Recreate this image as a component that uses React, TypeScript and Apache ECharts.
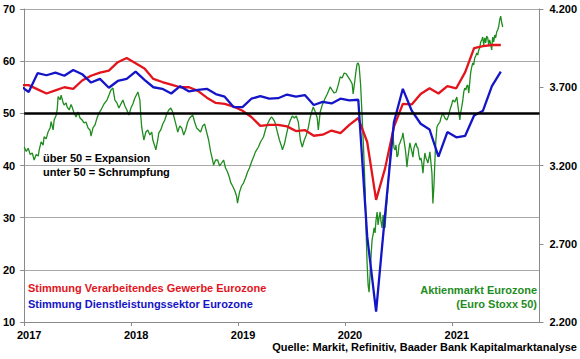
import React, { useEffect, useRef } from "react";
import * as echarts from "echarts";

// Monthly PMI series, first value = Dec 2016 (plotted mid-month)
const START_YEAR = 2016;
const START_MONTH = 11; // 0-based month index (December)

const manufacturingPMI = [
  55.4,
  55.4, 54.6, 53.8, 54.4, 55.0, 54.7, 56.3, 57.2, 57.8, 58.2, 59.8, 60.6,
  59.6, 58.6, 56.6, 56.0, 55.5, 55.0, 55.0, 54.3, 53.0, 52.0, 51.8, 51.3,
  50.5, 49.3, 47.6, 47.8, 47.8, 47.5, 46.6, 46.8, 45.7, 45.9, 46.7, 46.2,
  47.8, 49.1, 44.5, 33.4, 39.4, 47.4, 51.8, 51.7, 53.7, 54.8, 53.8, 55.2,
  54.8, 57.9, 62.5, 62.9, 63.1, 63.1,
];

const servicesPMI = [
  55.3,
  54.1, 57.7, 57.3, 57.8, 57.2, 58.3, 57.5, 55.9, 56.6, 54.9, 56.2, 56.6,
  58.0, 56.4, 55.0, 54.7, 53.8, 55.2, 54.2, 54.5, 54.7, 53.7, 53.2, 51.2,
  51.2, 52.8, 53.3, 52.8, 52.9, 53.6, 53.2, 53.5, 51.6, 52.2, 51.9, 52.8,
  52.5, 52.6, 26.4, 12.0, 30.5, 48.3, 54.7, 50.5, 48.0, 46.9, 41.7, 46.4,
  45.4, 45.7, 49.6, 50.5, 55.2, 58.0,
];

// Euro Stoxx 50: [year fraction, index level]
const stoxxPoints: [number, number][] = [
  [2017.0, 3318], [2017.019, 3290], [2017.037, 3310], [2017.056, 3270], [2017.075, 3280],
  [2017.093, 3235], [2017.112, 3270], [2017.131, 3260], [2017.14, 3300], [2017.159, 3352],
  [2017.177, 3330], [2017.186, 3384], [2017.205, 3370], [2017.224, 3416], [2017.242, 3440],
  [2017.252, 3480], [2017.27, 3427], [2017.28, 3491], [2017.298, 3520], [2017.308, 3555],
  [2017.317, 3640], [2017.336, 3620], [2017.345, 3650], [2017.364, 3600], [2017.373, 3587],
  [2017.392, 3600], [2017.401, 3575], [2017.42, 3555], [2017.438, 3590], [2017.448, 3574],
  [2017.466, 3535], [2017.485, 3510], [2017.503, 3542], [2017.522, 3504], [2017.541, 3491],
  [2017.559, 3472], [2017.578, 3478], [2017.597, 3440], [2017.615, 3427], [2017.625, 3388],
  [2017.643, 3440], [2017.662, 3459], [2017.681, 3504], [2017.699, 3535], [2017.718, 3555],
  [2017.746, 3593], [2017.774, 3618], [2017.793, 3650], [2017.811, 3682], [2017.83, 3695],
  [2017.848, 3618], [2017.867, 3600], [2017.886, 3567], [2017.904, 3593], [2017.923, 3618],
  [2017.942, 3580], [2017.96, 3555], [2017.979, 3523], [2017.998, 3567], [2018.016, 3593],
  [2018.035, 3631], [2018.054, 3657], [2018.063, 3670], [2018.082, 3618], [2018.091, 3510],
  [2018.1, 3440], [2018.11, 3400], [2018.119, 3363], [2018.138, 3414], [2018.156, 3427],
  [2018.175, 3395], [2018.193, 3414], [2018.203, 3363], [2018.221, 3325], [2018.231, 3300],
  [2018.249, 3363], [2018.259, 3408], [2018.277, 3427], [2018.296, 3465], [2018.315, 3491],
  [2018.333, 3529], [2018.352, 3555], [2018.371, 3567], [2018.389, 3542], [2018.408, 3491],
  [2018.427, 3440], [2018.436, 3414], [2018.455, 3453], [2018.473, 3440], [2018.492, 3395],
  [2018.51, 3427], [2018.529, 3478], [2018.548, 3504], [2018.576, 3523], [2018.594, 3478],
  [2018.613, 3440], [2018.632, 3427], [2018.65, 3414], [2018.669, 3453], [2018.688, 3465],
  [2018.706, 3414], [2018.725, 3363], [2018.744, 3287], [2018.762, 3235], [2018.772, 3203],
  [2018.79, 3235], [2018.809, 3235], [2018.828, 3197], [2018.846, 3216], [2018.865, 3235],
  [2018.883, 3184], [2018.902, 3158], [2018.921, 3120], [2018.93, 3094], [2018.949, 3069],
  [2018.967, 3043], [2018.986, 3005], [2018.995, 2960], [2019.014, 3030], [2019.033, 3069],
  [2019.051, 3088], [2019.07, 3120], [2019.089, 3158], [2019.107, 3184], [2019.126, 3222],
  [2019.145, 3254], [2019.163, 3287], [2019.191, 3318], [2019.21, 3350], [2019.238, 3382],
  [2019.256, 3427], [2019.275, 3465], [2019.294, 3491], [2019.312, 3510], [2019.322, 3504],
  [2019.34, 3484], [2019.35, 3465], [2019.368, 3414], [2019.387, 3363], [2019.406, 3325],
  [2019.415, 3300], [2019.434, 3337], [2019.452, 3395], [2019.471, 3453], [2019.49, 3491],
  [2019.508, 3516], [2019.527, 3504], [2019.545, 3516], [2019.564, 3478], [2019.583, 3363],
  [2019.601, 3318], [2019.62, 3363], [2019.639, 3395], [2019.657, 3440], [2019.676, 3510],
  [2019.695, 3555], [2019.704, 3574], [2019.723, 3542], [2019.741, 3504], [2019.751, 3427],
  [2019.769, 3542], [2019.788, 3587], [2019.816, 3631], [2019.835, 3657], [2019.862, 3702],
  [2019.881, 3682], [2019.9, 3663], [2019.918, 3670], [2019.937, 3714], [2019.956, 3766],
  [2019.974, 3759], [2019.993, 3791], [2020.012, 3785], [2020.03, 3766], [2020.049, 3746],
  [2020.068, 3721], [2020.077, 3657], [2020.091, 3733], [2020.105, 3810], [2020.114, 3849],
  [2020.124, 3855], [2020.133, 3836], [2020.147, 3714], [2020.161, 3510], [2020.175, 3300],
  [2020.189, 3043], [2020.198, 2788], [2020.207, 2583], [2020.217, 2436], [2020.226, 2391],
  [2020.235, 2500], [2020.245, 2628], [2020.254, 2724], [2020.263, 2756], [2020.273, 2801],
  [2020.282, 2769], [2020.291, 2852], [2020.301, 2903], [2020.31, 2820], [2020.319, 2865],
  [2020.329, 2903], [2020.338, 2839], [2020.347, 2801], [2020.357, 2884], [2020.366, 2839],
  [2020.375, 2801], [2020.385, 2903], [2020.394, 2980], [2020.403, 3075], [2020.413, 3171],
  [2020.422, 3267], [2020.431, 3331], [2020.441, 3376], [2020.45, 3395], [2020.459, 3312],
  [2020.469, 3300], [2020.478, 3331], [2020.487, 3254], [2020.497, 3267], [2020.506, 3331],
  [2020.515, 3344], [2020.524, 3363], [2020.534, 3376], [2020.543, 3408], [2020.552, 3363],
  [2020.562, 3318], [2020.571, 3267], [2020.58, 3190], [2020.59, 3254], [2020.599, 3300],
  [2020.608, 3344], [2020.618, 3312], [2020.627, 3287], [2020.636, 3254], [2020.646, 3312],
  [2020.655, 3331], [2020.664, 3344], [2020.674, 3318], [2020.683, 3312], [2020.692, 3267],
  [2020.702, 3235], [2020.711, 3248], [2020.72, 3215], [2020.73, 3151], [2020.739, 3222],
  [2020.748, 3280], [2020.758, 3248], [2020.767, 3235], [2020.776, 3215], [2020.786, 3248],
  [2020.795, 3287], [2020.804, 3222], [2020.814, 3151], [2020.823, 2958], [2020.833, 3075],
  [2020.842, 3235], [2020.851, 3363], [2020.861, 3446], [2020.87, 3459], [2020.889, 3478],
  [2020.898, 3504], [2020.916, 3535], [2020.935, 3504], [2020.954, 3491], [2020.972, 3523],
  [2020.982, 3555], [2021.0, 3593], [2021.009, 3618], [2021.028, 3606], [2021.047, 3638],
  [2021.056, 3587], [2021.065, 3542], [2021.075, 3491], [2021.084, 3542], [2021.093, 3574],
  [2021.103, 3618], [2021.112, 3670], [2021.121, 3695], [2021.131, 3682], [2021.14, 3708],
  [2021.149, 3714], [2021.159, 3663], [2021.168, 3733], [2021.177, 3797], [2021.186, 3829],
  [2021.196, 3855], [2021.205, 3842], [2021.214, 3887], [2021.224, 3900], [2021.233, 3919],
  [2021.242, 3906], [2021.252, 3938], [2021.261, 3951], [2021.27, 3989], [2021.28, 4002],
  [2021.289, 4021], [2021.298, 3970], [2021.308, 4015], [2021.317, 3983], [2021.326, 4027],
  [2021.336, 4015], [2021.345, 3970], [2021.354, 4002], [2021.364, 3976], [2021.373, 3938],
  [2021.382, 4021], [2021.392, 3989], [2021.401, 4034], [2021.41, 4015], [2021.42, 4053],
  [2021.429, 4066], [2021.438, 4085], [2021.448, 4130], [2021.457, 4155], [2021.466, 4117],
  [2021.476, 4085],
];

const X_MIN = 2017;
const X_MAX = 2021.82;
const LEFT_MIN = 10, LEFT_MAX = 70, LEFT_STEP = 10;
const RIGHT_MIN = 2200, RIGHT_MAX = 4200, RIGHT_STEP = 500;
const THRESHOLD = 50;

const TXT_RED = "Stimmung Verarbeitendes Gewerbe Eurozone";
const TXT_BLUE = "Stimmung Dienstleistungssektor Eurozone";
const TXT_GREEN1 = "Aktienmarkt Eurozone";
const TXT_GREEN2 = "(Euro Stoxx 50)";
const TXT_NOTE1 = "über 50 = Expansion";
const TXT_NOTE2 = "unter 50 = Schrumpfung";
const TXT_SOURCE = "Quelle: Markit, Refinitiv, Baader Bank Kapitalmarktanalyse";

const RED = "#e3141c";
const BLUE = "#1414c8";
const GREEN = "#1e8c1e";
const FONT = '"Liberation Sans", Arial, sans-serif';

function monthly(values: number[]): [number, number][] {
  return values.map((v, i) => {
    const mi = START_MONTH + i;
    const y = START_YEAR + Math.floor(mi / 12);
    const m = mi % 12;
    return [y + (m + 0.5) / 12, v];
  });
}

function thousands(v: number): string {
  const t = Math.floor(v / 1000);
  const r = Math.round(v % 1000);
  return t + "." + String(r).padStart(3, "0");
}

export default function App() {
  const ref = useRef<HTMLDivElement>(null);
  useEffect(() => {
    if (!ref.current) return;
    const chart = echarts.init(ref.current, undefined, { renderer: "svg" });
    const labelBase = { color: "#000", fontWeight: "bold" as const, fontSize: 11, fontFamily: FONT };
    const axisGray = "#8a8a8a";
    const txt = (text: string, x: number, y: number, fill: string, align: string) => ({
      type: "text",
      x,
      y,
      silent: true,
      style: { text, fill, font: `bold 11px ${FONT}`, textAlign: align, textVerticalAlign: "middle" },
    });
    chart.setOption({
      animation: false,
      backgroundColor: "#fff",
      grid: { left: 23, right: 40, top: 9, bottom: 37, containLabel: false },
      xAxis: {
        type: "value",
        min: X_MIN,
        max: X_MAX,
        interval: 1,
        axisLine: { show: true, lineStyle: { color: axisGray, width: 1 } },
        axisTick: { show: true, length: 4, lineStyle: { color: axisGray } },
        axisLabel: {
          ...labelBase,
          margin: 7,
          padding: [0, 0, 0, 10],
          showMaxLabel: false,
          formatter: (v: number) => (Math.abs(v - Math.round(v)) < 1e-6 ? String(Math.round(v)) : ""),
        },
        splitLine: { show: false },
      },
      yAxis: [
        {
          type: "value",
          min: LEFT_MIN,
          max: LEFT_MAX,
          interval: LEFT_STEP,
          axisLine: { show: true, lineStyle: { color: axisGray, width: 1 } },
          axisTick: { show: true, length: 4, lineStyle: { color: axisGray } },
          axisLabel: { ...labelBase, margin: 9 },
          splitLine: { show: true, lineStyle: { color: "#a8a8a8", width: 1 } },
        },
        {
          type: "value",
          position: "right",
          min: RIGHT_MIN,
          max: RIGHT_MAX,
          interval: RIGHT_STEP,
          axisLine: { show: true, lineStyle: { color: axisGray, width: 1 } },
          axisTick: { show: true, length: 4, lineStyle: { color: axisGray } },
          axisLabel: { ...labelBase, margin: 10, formatter: (v: number) => thousands(v) },
          splitLine: { show: false },
        },
      ],
      series: [
        {
          type: "line",
          name: "Euro Stoxx 50",
          yAxisIndex: 1,
          data: stoxxPoints,
          showSymbol: false,
          symbol: "none",
          lineStyle: { color: GREEN, width: 1.3 },
          z: 2,
        },
        {
          type: "line",
          name: "Verarbeitendes Gewerbe",
          yAxisIndex: 0,
          data: monthly(manufacturingPMI),
          symbol: "none",
          lineStyle: { color: RED, width: 2.3 },
          z: 3,
        },
        {
          type: "line",
          name: "Dienstleistungssektor",
          yAxisIndex: 0,
          data: monthly(servicesPMI),
          symbol: "none",
          lineStyle: { color: BLUE, width: 2.3 },
          z: 4,
          markLine: {
            silent: true,
            symbol: ["none", "none"],
            label: { show: false },
            lineStyle: { color: "#000", width: 2.5, type: "solid" },
            data: [{ yAxis: THRESHOLD }],
          },
        },
      ],
      graphic: [
        txt(TXT_NOTE1, 43, 158, "#000", "left"),
        txt(TXT_NOTE2, 43, 172, "#000", "left"),
        txt(TXT_RED, 28, 288, RED, "left"),
        txt(TXT_BLUE, 28, 304, BLUE, "left"),
        txt(TXT_GREEN1, 537, 290, GREEN, "right"),
        txt(TXT_GREEN2, 537, 304, GREEN, "right"),
        txt(TXT_SOURCE, 577, 347, "#000", "right"),
      ],
    });
    return () => chart.dispose();
  }, []);
  return (
    <div
      ref={ref}
      style={{ position: "fixed", left: 0, top: 0, width: 580, height: 359, background: "#fff" }}
    />
  );
}
